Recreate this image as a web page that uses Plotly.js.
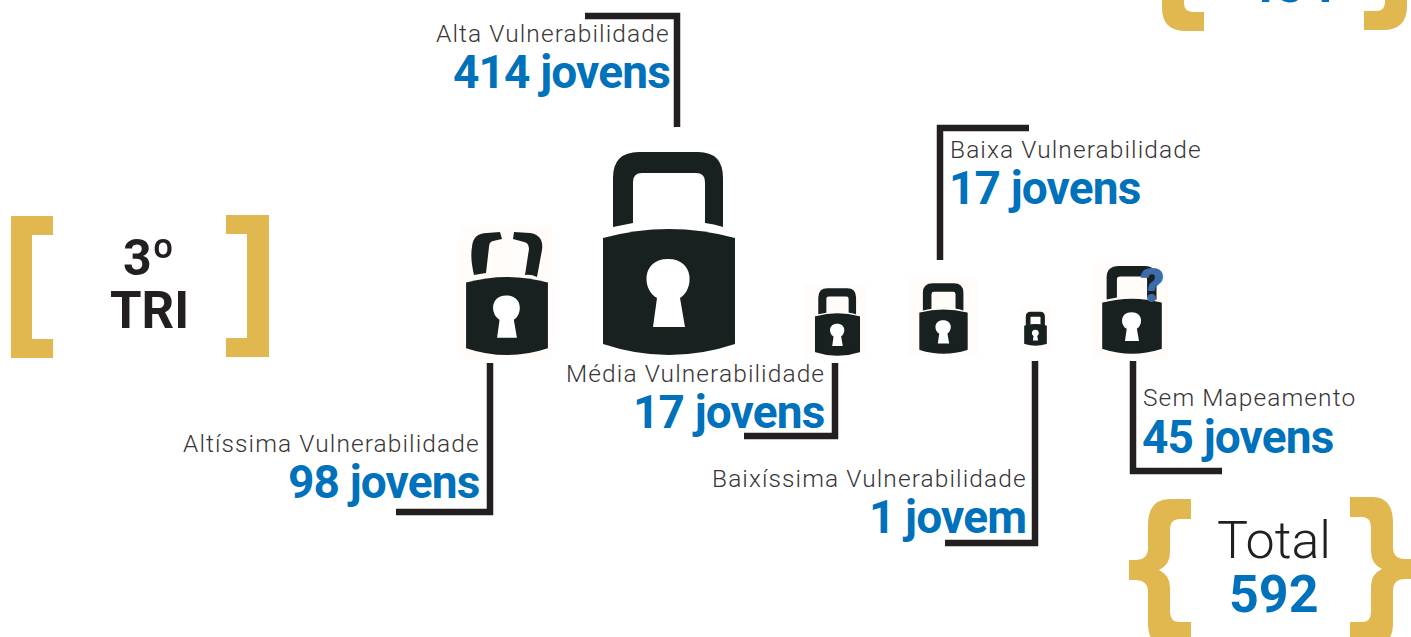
<!DOCTYPE html>
<html><head><meta charset="utf-8">
<script src="https://cdn.plot.ly/plotly-3.0.1.min.js"></script>
<style>html,body{margin:0;padding:0;background:#fff;overflow:hidden}
.annotation-text[style*="24.5px"]{letter-spacing:1.1px}
.annotation-text[style*="46px"]{letter-spacing:-0.85px}
</style></head><body><div id="c" style="width:1411px;height:637px"></div>
<script>
// Data
const categories=["Altíssima Vulnerabilidade","Alta Vulnerabilidade","Média Vulnerabilidade","Baixa Vulnerabilidade","Baixíssima Vulnerabilidade","Sem Mapeamento"];
const counts=[98,414,17,17,1,45];
const units=["jovens","jovens","jovens","jovens","jovem","jovens"];
const periodLines=["3º","TRI"];
const totalLabel="Total";
const totalValue=592;
const previousTotal="454";

// Layout of the infographic (pixel-like axis units)
const lockX=[507,669,837.5,943.5,1035.5,1132];
const lockBottom=[355,355,355,353,345,353];
const lockScale=[0.62,1,0.33,0.355,0.16,0.44];
const lockScaleY=[0.62,1,0.325,0.34,0.16,0.425];
const lockOpen=[true,false,false,false,false,false];
const labelRight=[481,671,826,1201,1028,1354];
const labelY=[443,33,373,149,478,397];
const valueRight=[480,671,825,1140,1027,1333];
const valueY=[482,72,412,188,517,437];
const labelAlign=["right","right","right","left","right","left"];
const labelLeft=[null,null,null,947.5,null,1140.5];
const leaders=[[[396,512],[490,512],[490,363]],[[585,16],[677,16],[677,127]],[[744,436],[835,436],[835,363]],[[1029,128],[940,128],[940,260]],[[945,543],[1035,543],[1035,361]],[[1133,361],[1133,471],[1222,471]]];

const DARK="#18211f",LINE="#231f20",GOLD="#e1b74f",BLUE="#0071bb";

function tf(t,cx,by,s,sy,ax,ay){return t.map(c=>{let o=c[0];for(let i=1;i<c.length;i+=2){o+=" "+(cx+(c[i]-ax)*s).toFixed(2)+","+(by+(c[i+1]-ay)*sy).toFixed(2);}return o;}).join(" ");}
const body=[["M",603,238],["Q",669,220,735,238],["L",735,344],["Q",669,366,603,344],["Z"]];
const shackle=[["M",613,227],["L",613,178],["Q",613,152,639,152],["L",698,152],["Q",723,152,723,178],["L",723,227],["Q",714,224,705,223],["L",705,182],["Q",705,173,696,173],["L",642,173],["Q",633,173,633,182],["L",633,223],["Z"]];
const keyhole=[["M",657,298],["C",642,290,641,259,668,259],["C",695,259,694,290,680,298],["L",685,327],["L",653,327],["Z"]];
const openA=[["M",474,275],["Q",470,258,472,247],["Q",473,233,487,233],["L",500,232],["L",502,239],["L",493,241],["Q",489,242,489,247],["L",486,273],["Z"]];
const openB=[["M",514,232],["L",530,233],["Q",544,235,542,250],["L",537,277],["Q",531,274,525,275],["L",529,249],["Q",529,243,524,242],["L",513,239],["Z"]];

function pathShape(d,fill,w){return {type:"path",xref:"x",yref:"y",path:d,fillcolor:fill,line:w?{width:w,color:fill}:{width:0},layer:"above"};}
const shapes=[];
// faint scan halos
[[459,226,553,359],[804,284,866,357],[908,278,978,356],[1020,308,1052,350],[1092,263,1168,358]].forEach(r=>shapes.push({type:"rect",xref:"x",yref:"y",x0:r[0],y0:r[1],x1:r[2],y1:r[3],fillcolor:"#fffcfa",line:{width:0},layer:"below"}));
categories.forEach((c,i)=>{
  const cx=lockX[i],by=lockBottom[i],s=lockScale[i],sy=lockScaleY[i],w=s<0.5?1.5:0;
  if(lockOpen[i]){
    shapes.push(pathShape(tf(openA,cx,by,1,1,507,355),DARK));
    shapes.push(pathShape(tf(openB,cx,by,1,1,507,355),DARK));
  } else shapes.push(pathShape(tf(shackle,cx,by,s,sy,669,355),DARK,w));
  shapes.push(pathShape(tf(body,cx,by,s,sy,669,355),DARK,w));
  shapes.push(pathShape(tf(keyhole,cx,by,s,sy,669,355),"#ffffff"));
  const l=leaders[i];
  shapes.push({type:"path",xref:"x",yref:"y",path:"M"+l.map(p=>p.join(",")).join(" L"),line:{color:LINE,width:6.5},fillcolor:"rgba(0,0,0,0)",layer:"above"});
});
// gold brackets
const gold=[
 "M11,216 L53,216 L53,235 L32,235 L32,339 L53,339 L53,358 L11,358 Z",
 "M226,215 L269,215 L269,357 L226,357 L226,338 L247,338 L247,234 L226,234 Z",
 "M1191,499 L1191,519 L1180,519 Q1170,519 1170,530 L1170,552 Q1170,565 1159,570 Q1170,575 1170,588 L1170,612 Q1170,622 1180,622 L1191,622 L1191,660 L1165,660 Q1148,640 1148,625 L1148,592 Q1148,580 1135,580 L1129,580 L1129,560 L1135,560 Q1148,560 1148,548 L1148,525 Q1148,499 1170,499 Z",
 "M1350,497 L1372,497 Q1393,497 1393,523 L1393,547 Q1393,559 1405,559 L1415,559 L1415,579 L1405,579 Q1393,579 1393,591 L1393,625 Q1393,640 1375,660 L1350,660 L1350,622 L1362,622 Q1371,622 1371,612 L1371,586 Q1371,574 1382,569 Q1371,564 1371,551 L1371,528 Q1371,517 1362,517 L1350,517 Z",
 "M1162,-5 L1184,-5 L1184,3 Q1184,12 1194,12 L1204,12 L1204,31 L1186,31 Q1162,31 1162,8 Z",
 "M1385,-5 L1407,-5 L1407,6 Q1407,30 1383,30 L1364,30 L1364,11 L1376,11 Q1385,11 1385,2 Z"
];
gold.forEach(d=>shapes.push(pathShape(d,GOLD)));

const SANS="Roboto, 'Noto Sans', sans-serif";
function note(text,x,y,anchor,size,color,weight,extra){return Object.assign({text:text,x:x,y:y,xref:"x",yref:"y",xanchor:anchor,yanchor:"middle",showarrow:false,borderpad:0,font:{family:SANS,size:size,color:color,weight:weight}},extra||{});}
const annotations=[];
categories.forEach((c,i)=>{
  const left=labelAlign[i]==="left";
  annotations.push(note(c,left?labelLeft[i]+1:labelRight[i],labelY[i],left?"left":"right",24.5,"#3a3637",300));
  annotations.push(note(counts[i]+" "+units[i],left?labelLeft[i]:valueRight[i],valueY[i],left?"left":"right",46,BLUE,700));
});
annotations.push(note(periodLines[0],149,258,"center",50,LINE,700));
annotations.push(note(periodLines[1],149,310,"center",51,LINE,700));
annotations.push(note(totalLabel,1274,540,"center",52,LINE,300));
annotations.push(note(String(totalValue),1274,594,"center",52,BLUE,700));
annotations.push(note(previousTotal,1290,16,"center",52,BLUE,700,{yanchor:"bottom"}));
annotations.push(note("?",1152,285,"center",48,"#3d6ca8",900));

const trace={type:"scatter",mode:"markers",x:lockX,y:lockBottom,text:categories,customdata:counts,marker:{size:1,opacity:0},hoverinfo:"text",showlegend:false};
Plotly.newPlot("c",[trace],{width:1411,height:637,margin:{l:0,r:0,t:0,b:0},paper_bgcolor:"#fff",plot_bgcolor:"#fff",showlegend:false,
 xaxis:{range:[0,1411],visible:false,fixedrange:true},yaxis:{range:[637,0],visible:false,fixedrange:true},shapes:shapes,annotations:annotations},{displayModeBar:false,staticPlot:true});
</script></body></html>
